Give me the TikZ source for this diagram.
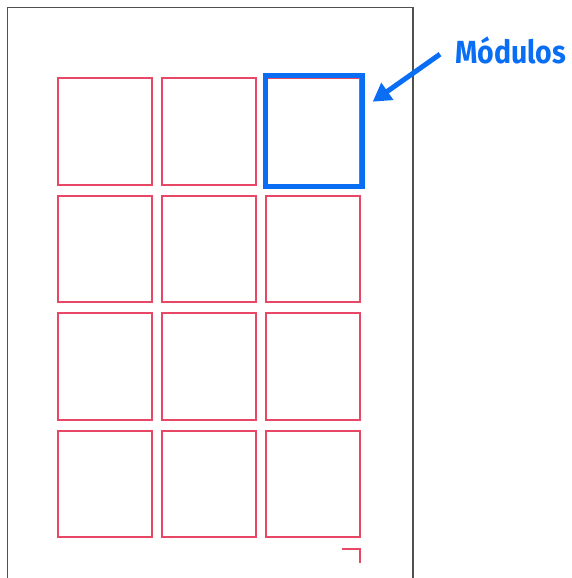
\documentclass[tikz,border=0pt]{standalone}
\usepackage{fontspec}
\setmainfont{Fira Sans}
\usetikzlibrary{arrows.meta}
\definecolor{modred}{RGB}{232,72,102}
\definecolor{modblue}{RGB}{10,110,245}
\definecolor{sheet}{RGB}{80,80,80}
\tikzstyle{cell} = [rectangle, draw=modred, line width=1.7pt, minimum width=93.5pt, minimum height=106.5pt, inner sep=0pt, outer sep=0pt, anchor=north west]
\tikzstyle{modulo} = [rectangle, draw=modblue, line width=5pt, minimum width=97.7pt, minimum height=111pt, inner sep=0pt, outer sep=0pt, anchor=north west]
\tikzstyle{pointer} = [modblue, line width=5pt, -{Triangle[length=18pt,width=20pt]}]

\begin{document}
\begin{tikzpicture}[x=1pt,y=-1pt]
            \useasboundingbox (0,0) rectangle (572,578);
            \fill [white] (0,0) rectangle (572,578);

            \draw [sheet, line width=1.5pt] (7.5,578) -- (7.5,7.5) -- (413,7.5) -- (413,578);

            \foreach \c in {0,1,2}
            {
                \foreach \r in {0,1,2,3}
                {
                    \node (b\c\r) [cell] at (58.3+104*\c,78.3+117.5*\r) {};
                }
            }

            \node (M) [modulo] at (265,75.5) {};
            \node (label) [anchor=base west, inner sep=0pt, text=modblue] at (455,63.3) {\scalebox{0.89}[1]{\fontsize{32}{36}\selectfont\bfseries Módulos}};

            \draw [pointer] ([xshift=-15pt,yshift=-4pt]label.west) -- ([xshift=10pt,yshift=-26.2pt]M.north east);

            \draw [modred, line width=1.7pt] ([xshift=-18pt,yshift=-11.7pt]b23.south east) -- ([yshift=-11.7pt]b23.south east) -- ([yshift=-25.4pt]b23.south east);
        \end{tikzpicture}
\end{document}
